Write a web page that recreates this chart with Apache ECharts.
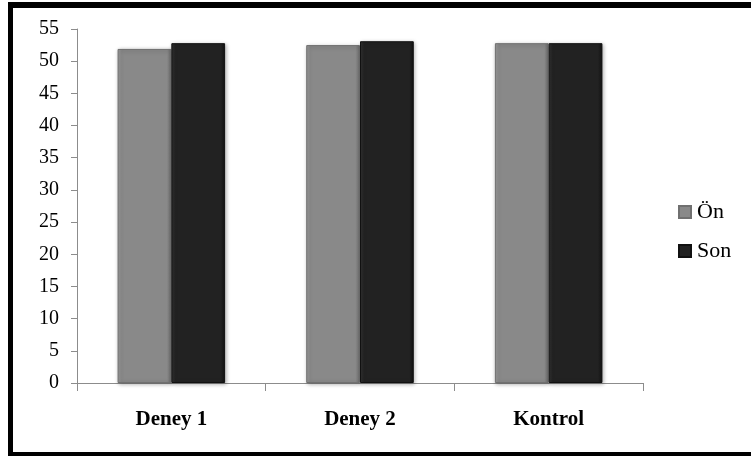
<!DOCTYPE html>
<html><head><meta charset="utf-8">
<script src="https://cdn.jsdelivr.net/npm/echarts@6/dist/echarts.min.js"></script>
<style>
html,body{margin:0;padding:0;background:#fff;}
#frame{position:absolute;left:8px;top:2px;width:760px;height:444px;border-left:5px solid #000;border-top:6px solid #000;border-bottom:5px solid #000;}
#c{position:absolute;left:0;top:0;width:751px;height:456px;}
</style></head>
<body>
<div id="frame"></div>
<div id="c"></div>
<script>
var categories = ['Deney 1', 'Deney 2', 'Kontrol'];
var onValues = [51.9, 52.5, 52.8];
var sonValues = [52.8, 53.1, 52.8];
var yTicks = [0, 5, 10, 15, 20, 25, 30, 35, 40, 45, 50, 55];

var chart = echarts.init(document.getElementById('c'));
function barStyle(base, light, dark) {
  return {
    color: new echarts.graphic.LinearGradient(0, 0, 1, 0, [
      {offset: 0, color: light}, {offset: 0.08, color: base},
      {offset: 0.92, color: base}, {offset: 1, color: dark}
    ]),
    borderColor: dark, borderWidth: 1,
    shadowColor: 'rgba(0,0,0,0.3)', shadowBlur: 4, shadowOffsetX: 1, shadowOffsetY: 1
  };
}
chart.setOption({
  animation: false,
  textStyle: {fontFamily: 'Liberation Serif'},
  grid: {left: 77, right: 108, top: 29, bottom: 73, containLabel: false},
  legend: {
    orient: 'vertical', left: 673, top: 196, itemWidth: 12, itemHeight: 12, itemGap: 17,
    textStyle: {fontFamily: 'Liberation Serif', fontSize: 22, color: '#000', padding: [0,0,0,1]},
    data: [{name: 'Ön', icon: 'rect'}, {name: 'Son', icon: 'rect'}]
  },
  xAxis: {
    type: 'category', data: categories,
    axisLine: {lineStyle: {color: '#8c8c8c', width: 1}},
    axisTick: {show: true, length: 8, lineStyle: {color: '#8c8c8c'}},
    axisLabel: {fontFamily: 'Liberation Serif', fontWeight: 'bold', fontSize: 21, color: '#000', margin: 26}
  },
  yAxis: {
    type: 'value', min: 0, max: 55, interval: 5,
    axisLine: {show: true, lineStyle: {color: '#8c8c8c', width: 1}},
    axisTick: {show: true, length: 6, lineStyle: {color: '#8c8c8c'}},
    splitLine: {show: false},
    axisLabel: {fontFamily: 'Liberation Serif', fontSize: 20, color: '#000', margin: 18,
      formatter: function(v){ return yTicks.indexOf(v) >= 0 ? String(v) : ''; }}
  },
  series: [
    {name: 'Ön', type: 'bar', data: onValues, barGap: '0%', barCategoryGap: '43%',
     itemStyle: barStyle('#898989', '#9c9c9c', '#707070')},
    {name: 'Son', type: 'bar', data: sonValues,
     itemStyle: barStyle('#222222', '#333333', '#111111')}
  ]
});
</script>
</body></html>
